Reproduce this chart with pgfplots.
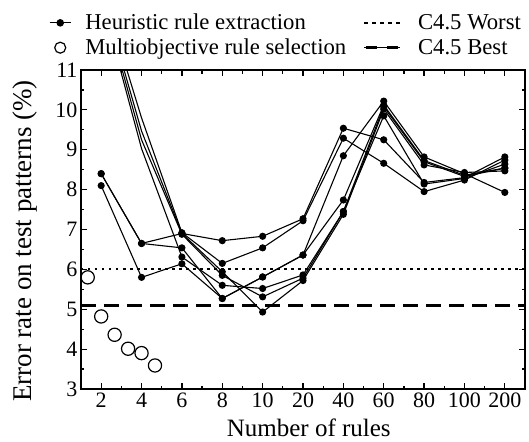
\documentclass[border=0pt]{standalone}
\usepackage{fontspec}
\setmainfont{Liberation Serif}
\newfontfamily\tnr{Liberation Serif}
\usepackage{pgfplots}
\pgfplotsset{compat=1.18}
\newcommand{\tickfont}{\tnr\fontsize{22}{25}\selectfont}
\newcommand{\legfont}{\tnr\fontsize{22.7}{26}\selectfont}
\newcommand{\xlabfont}{\tnr\fontsize{25}{29}\selectfont}
\newcommand{\ylabfont}{\tnr\fontsize{27}{31}\selectfont}
\begin{document}
\begin{tikzpicture}
\useasboundingbox (-81pt,-52pt) rectangle (448pt,389pt);
\begin{axis}[
    at={(0pt,0pt)}, anchor=south west,
    scale only axis, width=444pt, height=319pt,
    xmin=0.5, xmax=11.5, ymin=3, ymax=11,
    xtick={1,...,11},
    xticklabels={2,4,6,8,10,20,40,60,80,100,200},
    ytick={3,...,11},
    minor x tick num=1, minor y tick num=1,
    tick align=inside,
    major tick length=6pt, minor tick length=3.5pt,
    tick style={black, line width=1.2pt},
    axis line style={line width=1.5pt},
    /pgf/number format/assume math mode=true,
    ticklabel style={font=\tickfont},
    xlabel={Number of rules},
    ylabel={Error rate on test patterns (\%)},
    xlabel style={font=\xlabfont, at={(axis description cs:0.513,-0.122)}, anchor=center},
    ylabel style={font=\ylabfont, at={(axis description cs:-0.126,0.464)}, anchor=center},
    legend columns=2,
    legend cell align=left,
    legend style={font=\legfont, draw=none, fill=none, inner sep=0pt,
      nodes={inner sep=0pt},
      at={(axis description cs:-0.0721,1.1755)}, anchor=north west,
      row sep=7.6pt,
      /tikz/column 1/.append style={column sep=14pt},
      /tikz/column 2/.append style={column sep=17pt},
      /tikz/column 3/.append style={column sep=17pt}},
    every axis plot/.append style={black, line width=1.1pt, mark=*, mark size=3pt},
  ]
  \addlegendimage{legend image code/.code={\draw[black,line width=1.1pt] (0pt,0pt) -- (21pt,0pt); \fill[black] (10.5pt,0pt) circle (3.2pt);}}
  \addlegendentry{Heuristic rule extraction}
  \addlegendimage{legend image code/.code={\draw[black,line width=1.8pt,dash pattern=on 4pt off 4pt] (0pt,0pt) -- (36pt,0pt);}}
  \addlegendentry{C4.5 Worst}
  \addlegendimage{legend image code/.code={\draw[black,line width=1.2pt] (10.5pt,0pt) circle (5.5pt);}}
  \addlegendentry{Multiobjective rule selection}
  \addlegendimage{legend image code/.code={\draw[black,line width=2.6pt] (2pt,0pt) -- (13pt,0pt) (23pt,0pt) -- (34pt,0pt); \path (0pt,0pt) -- (36pt,0pt);}}
  \addlegendentry{C4.5 Best}

  % C4.5 reference lines
  \addplot[forget plot, no marks, line width=2pt, dash pattern=on 2.5pt off 4.5pt] coordinates {(0.5,6.0) (11.5,6.0)};
  \addplot[forget plot, no marks, line width=2.6pt, dash pattern=on 15pt off 8pt] coordinates {(0.5,5.1) (11.5,5.1)};

  % heuristic rule extraction (several runs)
  \addplot[forget plot] coordinates {
    (1,8.40) (2,6.65) (3,6.90) (4,6.72) (5,6.83) (6,7.27) (7,9.54) (8,9.25) (9,8.18) (10,8.30) (11,8.82)};
  \addplot[forget plot] coordinates {
    (1,8.40) (2,6.65) (3,6.54) (4,5.27) (5,5.81) (6,6.36) (7,8.85) (8,10.22) (9,8.82) (10,8.40) (11,7.93)};
  \addplot[forget plot] coordinates {
    (1,8.10) (2,5.80) (3,6.14) (4,5.27) (5,5.81) (6,6.36) (7,7.74) (8,10.12) (9,8.73) (10,8.36) (11,8.54)};
  \addplot[forget plot, mark indices={2,3,4,5,6,7,8,9,10,11}] coordinates {
    (1,13.1) (2,9.80) (3,6.92) (4,6.15) (5,6.54) (6,7.22) (7,9.29) (8,8.66) (9,7.95) (10,8.24) (11,8.74)};
  \addplot[forget plot, mark indices={2,3,4,5,6,7,8,9,10,11}] coordinates {
    (1,13.0) (2,9.47) (3,6.90) (4,5.94) (5,4.93) (6,5.72) (7,7.38) (8,10.02) (9,8.62) (10,8.43) (11,8.47)};
  \addplot[forget plot, mark indices={2,3,4,5,6,7,8,9,10,11}] coordinates {
    (1,12.9) (2,9.25) (3,6.88) (4,5.85) (5,5.31) (6,5.78) (7,7.45) (8,9.85) (9,8.14) (10,8.28) (11,8.64)};
  \addplot[forget plot, mark indices={2,3,4,5,6,7,8,9,10,11}] coordinates {
    (1,12.8) (2,9.03) (3,6.31) (4,5.60) (5,5.52) (6,5.86) (7,7.45) (8,10.08) (9,8.70) (10,8.33) (11,8.54)};

  % multiobjective rule selection
  \addplot[forget plot, only marks, mark=o, mark size=6.6pt, line width=1.2pt, mark options={fill=white}] coordinates {
    (0.667,5.80) (1.0,4.82) (1.333,4.36) (1.667,4.01) (2.0,3.90) (2.333,3.59)};
\end{axis}
\end{tikzpicture}
\end{document}
